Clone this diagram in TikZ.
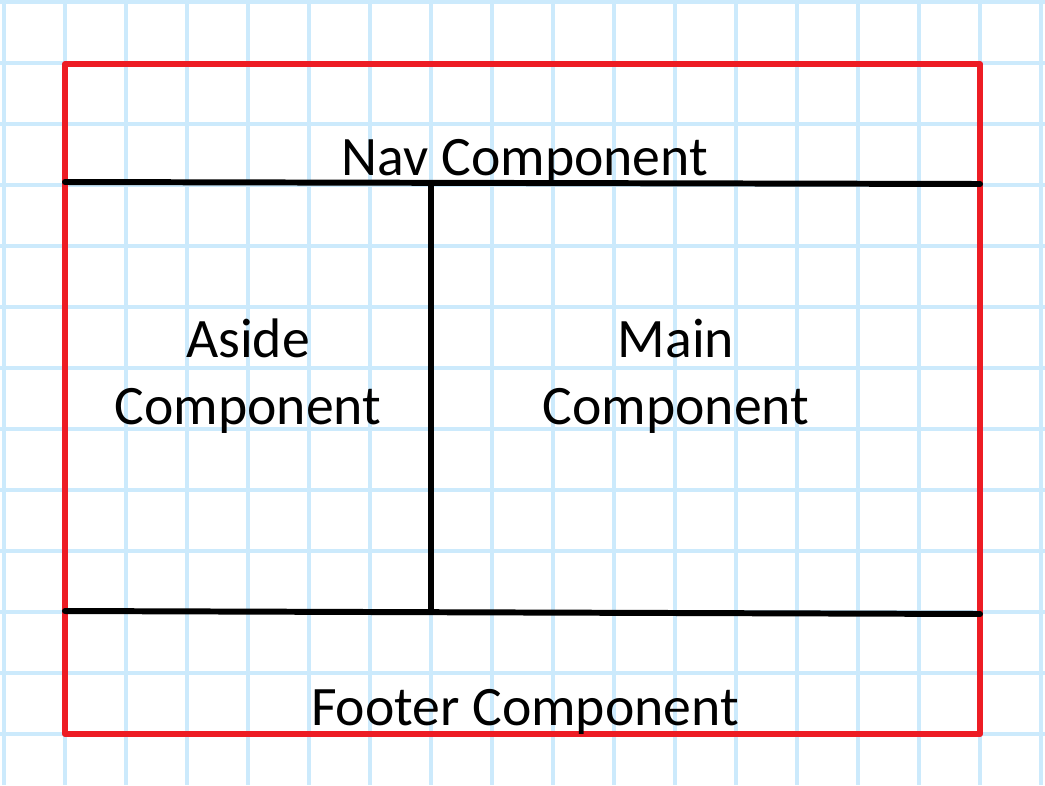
\documentclass[tikz,border=0pt]{standalone}
\usepackage{fontspec}
\setmainfont{Carlito}
\usetikzlibrary{positioning}
\definecolor{gridblue}{RGB}{204,234,252}
\definecolor{boxred}{RGB}{237,28,36}
\tikzset{
  gridline/.style={draw=gridblue,line width=2.3pt},
  frame/.style={draw=boxred,line width=3.4pt,line join=round},
  divider/.style={draw=black,line width=3.4pt,line cap=round},
  label/.style={font=\fontsize{31.7}{38}\selectfont,align=center,inner sep=0pt}
}

\begin{document}
\begin{tikzpicture}[x=0.02cm,y=-0.02cm]
\useasboundingbox (0,0) rectangle (1045,785);
% background grid
\foreach \gx in {4,65,...,1045}
  \draw[gridline] (\gx,0) -- (\gx,785);
\foreach \gy in {2,63,...,785}
  \draw[gridline] (0,\gy) -- (1045,\gy);
% page frame
\draw[frame] (65,64) rectangle (980,734);
% dividers
\coordinate (navL) at (65,182);
\coordinate (navR) at (980,184);
\coordinate (footL) at (65,611);
\coordinate (footR) at (980,614);
\coordinate (sideT) at (431,183);
\coordinate (sideB) at (431,612);
\draw[divider] (navL) -- (navR);
\draw[divider] (footL) -- (footR);
\draw[divider] (sideT) -- (sideB);
% labels
\node[label,anchor=base] (nav) at (525,175) {Nav Component};
\node[label] (aside) at (248,376) {Aside\\Component};
\node[label] (main) at (676,376) {Main\\Component};
\node[label,anchor=base] (footer) at (525,725) {Footer Component};
\end{tikzpicture}
\end{document}
